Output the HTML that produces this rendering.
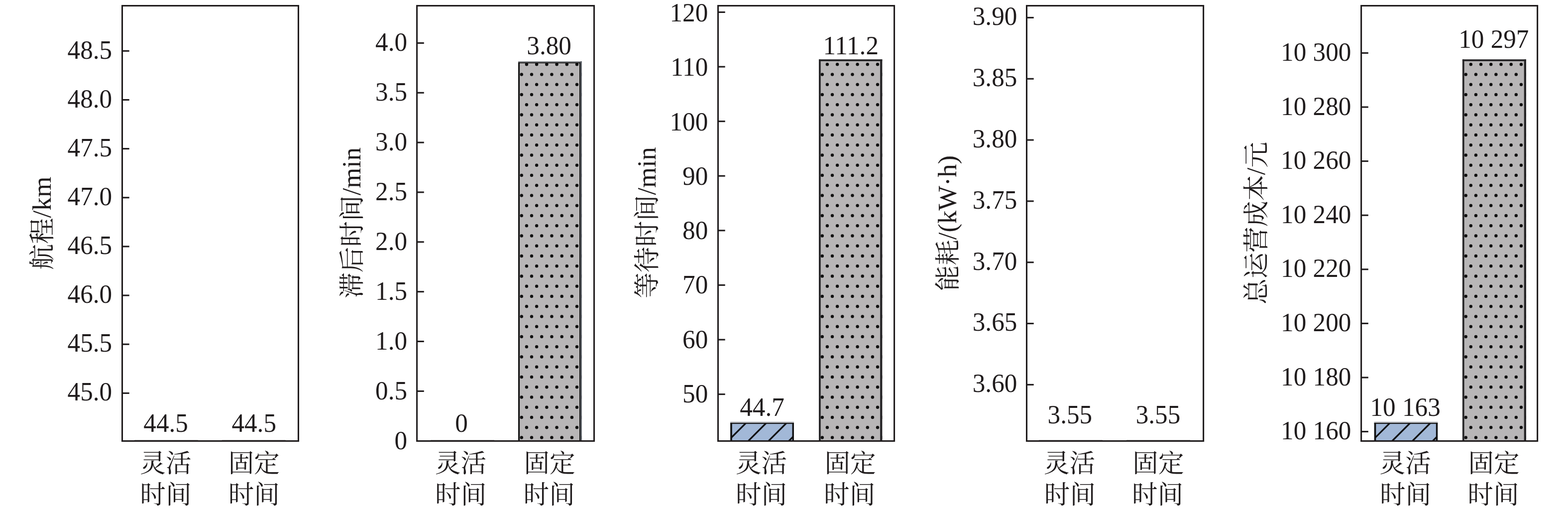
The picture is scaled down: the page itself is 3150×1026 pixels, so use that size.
<!DOCTYPE html>
<html><head><meta charset="utf-8"><title>chart</title>
<style>html,body{margin:0;padding:0;background:#fff}svg{display:block}text{font-family:"Liberation Serif",serif;fill:#1f1b1c}text.cj{font-family:"Liberation Serif","Noto Serif CJK SC",serif}</style></head><body>
<svg width="3150" height="1026" viewBox="0 0 3150 1026">
<rect width="3150" height="1026" fill="#fff"/>
<g>
<rect x="270" y="883.27" width="127.80" height="0.9" fill="#a0a0a0"/>
<rect x="445.8" y="883.27" width="128.00" height="0.9" fill="#a0a0a0"/>
<rect x="245.5" y="11.5" width="353.95" height="874.00" fill="none" stroke="#1f1b1c" stroke-width="3.05"/>
<line x1="245.5" y1="102.30" x2="259.70" y2="102.30" stroke="#1f1b1c" stroke-width="3.05"/>
<text transform="translate(225.20 117.80) scale(1 1.045)" font-size="51.2" text-anchor="end" word-spacing="0.5">48.5</text>
<line x1="245.5" y1="200.46" x2="259.70" y2="200.46" stroke="#1f1b1c" stroke-width="3.05"/>
<text transform="translate(225.20 215.80) scale(1 1.045)" font-size="51.2" text-anchor="end" word-spacing="0.5">48.0</text>
<line x1="245.5" y1="298.61" x2="259.70" y2="298.61" stroke="#1f1b1c" stroke-width="3.05"/>
<text transform="translate(225.20 313.80) scale(1 1.045)" font-size="51.2" text-anchor="end" word-spacing="0.5">47.5</text>
<line x1="245.5" y1="396.77" x2="259.70" y2="396.77" stroke="#1f1b1c" stroke-width="3.05"/>
<text transform="translate(225.20 411.80) scale(1 1.045)" font-size="51.2" text-anchor="end" word-spacing="0.5">47.0</text>
<line x1="245.5" y1="494.93" x2="259.70" y2="494.93" stroke="#1f1b1c" stroke-width="3.05"/>
<text transform="translate(225.20 509.80) scale(1 1.045)" font-size="51.2" text-anchor="end" word-spacing="0.5">46.5</text>
<line x1="245.5" y1="593.09" x2="259.70" y2="593.09" stroke="#1f1b1c" stroke-width="3.05"/>
<text transform="translate(225.20 607.80) scale(1 1.045)" font-size="51.2" text-anchor="end" word-spacing="0.5">46.0</text>
<line x1="245.5" y1="691.24" x2="259.70" y2="691.24" stroke="#1f1b1c" stroke-width="3.05"/>
<text transform="translate(225.20 705.80) scale(1 1.045)" font-size="51.2" text-anchor="end" word-spacing="0.5">45.5</text>
<line x1="245.5" y1="789.40" x2="259.70" y2="789.40" stroke="#1f1b1c" stroke-width="3.05"/>
<text transform="translate(225.20 803.80) scale(1 1.045)" font-size="51.2" text-anchor="end" word-spacing="0.5">45.0</text>
<text transform="translate(333.10 866.90) scale(1 1.045)" font-size="51.2" text-anchor="middle" word-spacing="0.5">44.5</text>
<text transform="translate(510.20 866.90) scale(1 1.045)" font-size="51.2" text-anchor="middle" word-spacing="0.5">44.5</text>
<text class="cj" x="281.30" y="948.30" font-size="51.6">灵活</text>
<text class="cj" x="281.30" y="1011.00" font-size="51.6">时间</text>
<text class="cj" x="458.70" y="948.30" font-size="51.6">固定</text>
<text class="cj" x="458.70" y="1011.00" font-size="51.6">时间</text>
<g transform="translate(102.4 448.3) rotate(-90)">
<text class="cj" x="-93.66" y="1.00" font-size="52.2">航程</text>
<text transform="translate(10.74 0.00) scale(1 1.0)" font-size="53.3" text-anchor="start" >/km</text>
</g>
</g>
<g>
<rect x="865" y="883.27" width="128.00" height="0.9" fill="#a0a0a0"/>
<clipPath id="c11"><rect x="1041" y="123" width="127.80" height="762.50"/></clipPath>
<rect x="1041" y="123" width="127.80" height="762.50" fill="#b8b6b7"/>
<g clip-path="url(#c11)" fill="#111">
<circle cx="1057.90" cy="129.20" r="3.2"/>
<circle cx="1078.12" cy="129.20" r="3.2"/>
<circle cx="1098.34" cy="129.20" r="3.2"/>
<circle cx="1118.56" cy="129.20" r="3.2"/>
<circle cx="1138.78" cy="129.20" r="3.2"/>
<circle cx="1159.00" cy="129.20" r="3.2"/>
<circle cx="1047.80" cy="149.45" r="3.2"/>
<circle cx="1068.02" cy="149.45" r="3.2"/>
<circle cx="1088.24" cy="149.45" r="3.2"/>
<circle cx="1108.46" cy="149.45" r="3.2"/>
<circle cx="1128.68" cy="149.45" r="3.2"/>
<circle cx="1148.90" cy="149.45" r="3.2"/>
<circle cx="1169.12" cy="149.45" r="3.2"/>
<circle cx="1057.90" cy="169.70" r="3.2"/>
<circle cx="1078.12" cy="169.70" r="3.2"/>
<circle cx="1098.34" cy="169.70" r="3.2"/>
<circle cx="1118.56" cy="169.70" r="3.2"/>
<circle cx="1138.78" cy="169.70" r="3.2"/>
<circle cx="1159.00" cy="169.70" r="3.2"/>
<circle cx="1047.80" cy="189.95" r="3.2"/>
<circle cx="1068.02" cy="189.95" r="3.2"/>
<circle cx="1088.24" cy="189.95" r="3.2"/>
<circle cx="1108.46" cy="189.95" r="3.2"/>
<circle cx="1128.68" cy="189.95" r="3.2"/>
<circle cx="1148.90" cy="189.95" r="3.2"/>
<circle cx="1169.12" cy="189.95" r="3.2"/>
<circle cx="1057.90" cy="210.20" r="3.2"/>
<circle cx="1078.12" cy="210.20" r="3.2"/>
<circle cx="1098.34" cy="210.20" r="3.2"/>
<circle cx="1118.56" cy="210.20" r="3.2"/>
<circle cx="1138.78" cy="210.20" r="3.2"/>
<circle cx="1159.00" cy="210.20" r="3.2"/>
<circle cx="1047.80" cy="230.45" r="3.2"/>
<circle cx="1068.02" cy="230.45" r="3.2"/>
<circle cx="1088.24" cy="230.45" r="3.2"/>
<circle cx="1108.46" cy="230.45" r="3.2"/>
<circle cx="1128.68" cy="230.45" r="3.2"/>
<circle cx="1148.90" cy="230.45" r="3.2"/>
<circle cx="1169.12" cy="230.45" r="3.2"/>
<circle cx="1057.90" cy="250.70" r="3.2"/>
<circle cx="1078.12" cy="250.70" r="3.2"/>
<circle cx="1098.34" cy="250.70" r="3.2"/>
<circle cx="1118.56" cy="250.70" r="3.2"/>
<circle cx="1138.78" cy="250.70" r="3.2"/>
<circle cx="1159.00" cy="250.70" r="3.2"/>
<circle cx="1047.80" cy="270.95" r="3.2"/>
<circle cx="1068.02" cy="270.95" r="3.2"/>
<circle cx="1088.24" cy="270.95" r="3.2"/>
<circle cx="1108.46" cy="270.95" r="3.2"/>
<circle cx="1128.68" cy="270.95" r="3.2"/>
<circle cx="1148.90" cy="270.95" r="3.2"/>
<circle cx="1169.12" cy="270.95" r="3.2"/>
<circle cx="1057.90" cy="291.20" r="3.2"/>
<circle cx="1078.12" cy="291.20" r="3.2"/>
<circle cx="1098.34" cy="291.20" r="3.2"/>
<circle cx="1118.56" cy="291.20" r="3.2"/>
<circle cx="1138.78" cy="291.20" r="3.2"/>
<circle cx="1159.00" cy="291.20" r="3.2"/>
<circle cx="1047.80" cy="311.45" r="3.2"/>
<circle cx="1068.02" cy="311.45" r="3.2"/>
<circle cx="1088.24" cy="311.45" r="3.2"/>
<circle cx="1108.46" cy="311.45" r="3.2"/>
<circle cx="1128.68" cy="311.45" r="3.2"/>
<circle cx="1148.90" cy="311.45" r="3.2"/>
<circle cx="1169.12" cy="311.45" r="3.2"/>
<circle cx="1057.90" cy="331.70" r="3.2"/>
<circle cx="1078.12" cy="331.70" r="3.2"/>
<circle cx="1098.34" cy="331.70" r="3.2"/>
<circle cx="1118.56" cy="331.70" r="3.2"/>
<circle cx="1138.78" cy="331.70" r="3.2"/>
<circle cx="1159.00" cy="331.70" r="3.2"/>
<circle cx="1047.80" cy="351.95" r="3.2"/>
<circle cx="1068.02" cy="351.95" r="3.2"/>
<circle cx="1088.24" cy="351.95" r="3.2"/>
<circle cx="1108.46" cy="351.95" r="3.2"/>
<circle cx="1128.68" cy="351.95" r="3.2"/>
<circle cx="1148.90" cy="351.95" r="3.2"/>
<circle cx="1169.12" cy="351.95" r="3.2"/>
<circle cx="1057.90" cy="372.20" r="3.2"/>
<circle cx="1078.12" cy="372.20" r="3.2"/>
<circle cx="1098.34" cy="372.20" r="3.2"/>
<circle cx="1118.56" cy="372.20" r="3.2"/>
<circle cx="1138.78" cy="372.20" r="3.2"/>
<circle cx="1159.00" cy="372.20" r="3.2"/>
<circle cx="1047.80" cy="392.45" r="3.2"/>
<circle cx="1068.02" cy="392.45" r="3.2"/>
<circle cx="1088.24" cy="392.45" r="3.2"/>
<circle cx="1108.46" cy="392.45" r="3.2"/>
<circle cx="1128.68" cy="392.45" r="3.2"/>
<circle cx="1148.90" cy="392.45" r="3.2"/>
<circle cx="1169.12" cy="392.45" r="3.2"/>
<circle cx="1057.90" cy="412.70" r="3.2"/>
<circle cx="1078.12" cy="412.70" r="3.2"/>
<circle cx="1098.34" cy="412.70" r="3.2"/>
<circle cx="1118.56" cy="412.70" r="3.2"/>
<circle cx="1138.78" cy="412.70" r="3.2"/>
<circle cx="1159.00" cy="412.70" r="3.2"/>
<circle cx="1047.80" cy="432.95" r="3.2"/>
<circle cx="1068.02" cy="432.95" r="3.2"/>
<circle cx="1088.24" cy="432.95" r="3.2"/>
<circle cx="1108.46" cy="432.95" r="3.2"/>
<circle cx="1128.68" cy="432.95" r="3.2"/>
<circle cx="1148.90" cy="432.95" r="3.2"/>
<circle cx="1169.12" cy="432.95" r="3.2"/>
<circle cx="1057.90" cy="453.20" r="3.2"/>
<circle cx="1078.12" cy="453.20" r="3.2"/>
<circle cx="1098.34" cy="453.20" r="3.2"/>
<circle cx="1118.56" cy="453.20" r="3.2"/>
<circle cx="1138.78" cy="453.20" r="3.2"/>
<circle cx="1159.00" cy="453.20" r="3.2"/>
<circle cx="1047.80" cy="473.45" r="3.2"/>
<circle cx="1068.02" cy="473.45" r="3.2"/>
<circle cx="1088.24" cy="473.45" r="3.2"/>
<circle cx="1108.46" cy="473.45" r="3.2"/>
<circle cx="1128.68" cy="473.45" r="3.2"/>
<circle cx="1148.90" cy="473.45" r="3.2"/>
<circle cx="1169.12" cy="473.45" r="3.2"/>
<circle cx="1057.90" cy="493.70" r="3.2"/>
<circle cx="1078.12" cy="493.70" r="3.2"/>
<circle cx="1098.34" cy="493.70" r="3.2"/>
<circle cx="1118.56" cy="493.70" r="3.2"/>
<circle cx="1138.78" cy="493.70" r="3.2"/>
<circle cx="1159.00" cy="493.70" r="3.2"/>
<circle cx="1047.80" cy="513.95" r="3.2"/>
<circle cx="1068.02" cy="513.95" r="3.2"/>
<circle cx="1088.24" cy="513.95" r="3.2"/>
<circle cx="1108.46" cy="513.95" r="3.2"/>
<circle cx="1128.68" cy="513.95" r="3.2"/>
<circle cx="1148.90" cy="513.95" r="3.2"/>
<circle cx="1169.12" cy="513.95" r="3.2"/>
<circle cx="1057.90" cy="534.20" r="3.2"/>
<circle cx="1078.12" cy="534.20" r="3.2"/>
<circle cx="1098.34" cy="534.20" r="3.2"/>
<circle cx="1118.56" cy="534.20" r="3.2"/>
<circle cx="1138.78" cy="534.20" r="3.2"/>
<circle cx="1159.00" cy="534.20" r="3.2"/>
<circle cx="1047.80" cy="554.45" r="3.2"/>
<circle cx="1068.02" cy="554.45" r="3.2"/>
<circle cx="1088.24" cy="554.45" r="3.2"/>
<circle cx="1108.46" cy="554.45" r="3.2"/>
<circle cx="1128.68" cy="554.45" r="3.2"/>
<circle cx="1148.90" cy="554.45" r="3.2"/>
<circle cx="1169.12" cy="554.45" r="3.2"/>
<circle cx="1057.90" cy="574.70" r="3.2"/>
<circle cx="1078.12" cy="574.70" r="3.2"/>
<circle cx="1098.34" cy="574.70" r="3.2"/>
<circle cx="1118.56" cy="574.70" r="3.2"/>
<circle cx="1138.78" cy="574.70" r="3.2"/>
<circle cx="1159.00" cy="574.70" r="3.2"/>
<circle cx="1047.80" cy="594.95" r="3.2"/>
<circle cx="1068.02" cy="594.95" r="3.2"/>
<circle cx="1088.24" cy="594.95" r="3.2"/>
<circle cx="1108.46" cy="594.95" r="3.2"/>
<circle cx="1128.68" cy="594.95" r="3.2"/>
<circle cx="1148.90" cy="594.95" r="3.2"/>
<circle cx="1169.12" cy="594.95" r="3.2"/>
<circle cx="1057.90" cy="615.20" r="3.2"/>
<circle cx="1078.12" cy="615.20" r="3.2"/>
<circle cx="1098.34" cy="615.20" r="3.2"/>
<circle cx="1118.56" cy="615.20" r="3.2"/>
<circle cx="1138.78" cy="615.20" r="3.2"/>
<circle cx="1159.00" cy="615.20" r="3.2"/>
<circle cx="1047.80" cy="635.45" r="3.2"/>
<circle cx="1068.02" cy="635.45" r="3.2"/>
<circle cx="1088.24" cy="635.45" r="3.2"/>
<circle cx="1108.46" cy="635.45" r="3.2"/>
<circle cx="1128.68" cy="635.45" r="3.2"/>
<circle cx="1148.90" cy="635.45" r="3.2"/>
<circle cx="1169.12" cy="635.45" r="3.2"/>
<circle cx="1057.90" cy="655.70" r="3.2"/>
<circle cx="1078.12" cy="655.70" r="3.2"/>
<circle cx="1098.34" cy="655.70" r="3.2"/>
<circle cx="1118.56" cy="655.70" r="3.2"/>
<circle cx="1138.78" cy="655.70" r="3.2"/>
<circle cx="1159.00" cy="655.70" r="3.2"/>
<circle cx="1047.80" cy="675.95" r="3.2"/>
<circle cx="1068.02" cy="675.95" r="3.2"/>
<circle cx="1088.24" cy="675.95" r="3.2"/>
<circle cx="1108.46" cy="675.95" r="3.2"/>
<circle cx="1128.68" cy="675.95" r="3.2"/>
<circle cx="1148.90" cy="675.95" r="3.2"/>
<circle cx="1169.12" cy="675.95" r="3.2"/>
<circle cx="1057.90" cy="696.20" r="3.2"/>
<circle cx="1078.12" cy="696.20" r="3.2"/>
<circle cx="1098.34" cy="696.20" r="3.2"/>
<circle cx="1118.56" cy="696.20" r="3.2"/>
<circle cx="1138.78" cy="696.20" r="3.2"/>
<circle cx="1159.00" cy="696.20" r="3.2"/>
<circle cx="1047.80" cy="716.45" r="3.2"/>
<circle cx="1068.02" cy="716.45" r="3.2"/>
<circle cx="1088.24" cy="716.45" r="3.2"/>
<circle cx="1108.46" cy="716.45" r="3.2"/>
<circle cx="1128.68" cy="716.45" r="3.2"/>
<circle cx="1148.90" cy="716.45" r="3.2"/>
<circle cx="1169.12" cy="716.45" r="3.2"/>
<circle cx="1057.90" cy="736.70" r="3.2"/>
<circle cx="1078.12" cy="736.70" r="3.2"/>
<circle cx="1098.34" cy="736.70" r="3.2"/>
<circle cx="1118.56" cy="736.70" r="3.2"/>
<circle cx="1138.78" cy="736.70" r="3.2"/>
<circle cx="1159.00" cy="736.70" r="3.2"/>
<circle cx="1047.80" cy="756.95" r="3.2"/>
<circle cx="1068.02" cy="756.95" r="3.2"/>
<circle cx="1088.24" cy="756.95" r="3.2"/>
<circle cx="1108.46" cy="756.95" r="3.2"/>
<circle cx="1128.68" cy="756.95" r="3.2"/>
<circle cx="1148.90" cy="756.95" r="3.2"/>
<circle cx="1169.12" cy="756.95" r="3.2"/>
<circle cx="1057.90" cy="777.20" r="3.2"/>
<circle cx="1078.12" cy="777.20" r="3.2"/>
<circle cx="1098.34" cy="777.20" r="3.2"/>
<circle cx="1118.56" cy="777.20" r="3.2"/>
<circle cx="1138.78" cy="777.20" r="3.2"/>
<circle cx="1159.00" cy="777.20" r="3.2"/>
<circle cx="1047.80" cy="797.45" r="3.2"/>
<circle cx="1068.02" cy="797.45" r="3.2"/>
<circle cx="1088.24" cy="797.45" r="3.2"/>
<circle cx="1108.46" cy="797.45" r="3.2"/>
<circle cx="1128.68" cy="797.45" r="3.2"/>
<circle cx="1148.90" cy="797.45" r="3.2"/>
<circle cx="1169.12" cy="797.45" r="3.2"/>
<circle cx="1057.90" cy="817.70" r="3.2"/>
<circle cx="1078.12" cy="817.70" r="3.2"/>
<circle cx="1098.34" cy="817.70" r="3.2"/>
<circle cx="1118.56" cy="817.70" r="3.2"/>
<circle cx="1138.78" cy="817.70" r="3.2"/>
<circle cx="1159.00" cy="817.70" r="3.2"/>
<circle cx="1047.80" cy="837.95" r="3.2"/>
<circle cx="1068.02" cy="837.95" r="3.2"/>
<circle cx="1088.24" cy="837.95" r="3.2"/>
<circle cx="1108.46" cy="837.95" r="3.2"/>
<circle cx="1128.68" cy="837.95" r="3.2"/>
<circle cx="1148.90" cy="837.95" r="3.2"/>
<circle cx="1169.12" cy="837.95" r="3.2"/>
<circle cx="1057.90" cy="858.20" r="3.2"/>
<circle cx="1078.12" cy="858.20" r="3.2"/>
<circle cx="1098.34" cy="858.20" r="3.2"/>
<circle cx="1118.56" cy="858.20" r="3.2"/>
<circle cx="1138.78" cy="858.20" r="3.2"/>
<circle cx="1159.00" cy="858.20" r="3.2"/>
<circle cx="1047.80" cy="878.45" r="3.2"/>
<circle cx="1068.02" cy="878.45" r="3.2"/>
<circle cx="1088.24" cy="878.45" r="3.2"/>
<circle cx="1108.46" cy="878.45" r="3.2"/>
<circle cx="1128.68" cy="878.45" r="3.2"/>
<circle cx="1148.90" cy="878.45" r="3.2"/>
<circle cx="1169.12" cy="878.45" r="3.2"/>
</g>
<rect x="1041" y="123" width="127.80" height="2.4" fill="#85888c"/>
<rect x="1041" y="125.3" width="125.00" height="1.8" fill="#111"/>
<rect x="1041" y="125.3" width="3.1" height="760.20" fill="#111"/>
<rect x="1164.00" y="125.3" width="2.0" height="760.20" fill="#111"/>
<rect x="1166.00" y="123" width="2.8" height="762.50" fill="#5d6168"/>
<rect x="837.6" y="11.5" width="355.90" height="874.00" fill="none" stroke="#1f1b1c" stroke-width="3.05"/>
<line x1="837.6" y1="86.40" x2="851.80" y2="86.40" stroke="#1f1b1c" stroke-width="3.05"/>
<text transform="translate(818.10 101.80) scale(1 1.045)" font-size="51.2" text-anchor="end" word-spacing="0.5">4.0</text>
<line x1="837.6" y1="186.26" x2="851.80" y2="186.26" stroke="#1f1b1c" stroke-width="3.05"/>
<text transform="translate(818.10 201.86) scale(1 1.045)" font-size="51.2" text-anchor="end" word-spacing="0.5">3.5</text>
<line x1="837.6" y1="286.11" x2="851.80" y2="286.11" stroke="#1f1b1c" stroke-width="3.05"/>
<text transform="translate(818.10 301.91) scale(1 1.045)" font-size="51.2" text-anchor="end" word-spacing="0.5">3.0</text>
<line x1="837.6" y1="385.97" x2="851.80" y2="385.97" stroke="#1f1b1c" stroke-width="3.05"/>
<text transform="translate(818.10 401.97) scale(1 1.045)" font-size="51.2" text-anchor="end" word-spacing="0.5">2.5</text>
<line x1="837.6" y1="485.83" x2="851.80" y2="485.83" stroke="#1f1b1c" stroke-width="3.05"/>
<text transform="translate(818.10 502.03) scale(1 1.045)" font-size="51.2" text-anchor="end" word-spacing="0.5">2.0</text>
<line x1="837.6" y1="585.69" x2="851.80" y2="585.69" stroke="#1f1b1c" stroke-width="3.05"/>
<text transform="translate(818.10 602.09) scale(1 1.045)" font-size="51.2" text-anchor="end" word-spacing="0.5">1.5</text>
<line x1="837.6" y1="685.54" x2="851.80" y2="685.54" stroke="#1f1b1c" stroke-width="3.05"/>
<text transform="translate(818.10 702.14) scale(1 1.045)" font-size="51.2" text-anchor="end" word-spacing="0.5">1.0</text>
<line x1="837.6" y1="785.40" x2="851.80" y2="785.40" stroke="#1f1b1c" stroke-width="3.05"/>
<text transform="translate(818.10 802.20) scale(1 1.045)" font-size="51.2" text-anchor="end" word-spacing="0.5">0.5</text>
<text transform="translate(818.10 902.00) scale(1 1.045)" font-size="51.2" text-anchor="end" word-spacing="0.5">0</text>
<text transform="translate(927.00 866.80) scale(1 1.045)" font-size="51.2" text-anchor="middle" word-spacing="0.5">0</text>
<text transform="translate(1103.10 109.30) scale(1 1.045)" font-size="51.2" text-anchor="middle" word-spacing="0.5">3.80</text>
<text class="cj" x="874.00" y="948.30" font-size="51.6">灵活</text>
<text class="cj" x="874.10" y="1011.00" font-size="51.6">时间</text>
<text class="cj" x="1052.50" y="948.30" font-size="51.6">固定</text>
<text class="cj" x="1051.60" y="1011.00" font-size="51.6">时间</text>
<g transform="translate(723.9 447.4) rotate(-90)">
<text class="cj" x="-151.33" y="1.00" font-size="51.6">滞后时间</text>
<text transform="translate(55.07 0.00) scale(1 1.0)" font-size="52.5" text-anchor="start" >/min</text>
</g>
</g>
<g>
<clipPath id="c20"><rect x="1467.15" y="846.8" width="127.75" height="38.70"/></clipPath>
<rect x="1467.15" y="846.8" width="127.75" height="38.70" fill="#a2b8d7"/>
<clipPath id="c20h"><rect x="1468.15" y="849.8" width="125.75" height="35.70"/></clipPath>
<g clip-path="url(#c20h)" stroke="#111" stroke-width="3.3">
<line x1="1376.05" y1="890.50" x2="1424.75" y2="841.80"/>
<line x1="1416.75" y1="890.50" x2="1465.45" y2="841.80"/>
<line x1="1457.45" y1="890.50" x2="1506.15" y2="841.80"/>
<line x1="1498.15" y1="890.50" x2="1546.85" y2="841.80"/>
<line x1="1538.85" y1="890.50" x2="1587.55" y2="841.80"/>
<line x1="1579.55" y1="890.50" x2="1628.25" y2="841.80"/>
<line x1="1620.25" y1="890.50" x2="1668.95" y2="841.80"/>
<line x1="1660.95" y1="890.50" x2="1709.65" y2="841.80"/>
</g>
<rect x="1467.15" y="846.8" width="127.75" height="2.3" fill="#b4b4b6"/>
<rect x="1467.15" y="849.0999999999999" width="127.75" height="2.0" fill="#111"/>
<rect x="1467.15" y="849.0999999999999" width="3.6" height="36.40" fill="#111"/>
<rect x="1591.50" y="849.0999999999999" width="3.4" height="36.40" fill="#111"/>
<clipPath id="c21"><rect x="1645" y="119.2" width="127.30" height="766.30"/></clipPath>
<rect x="1645" y="119.2" width="127.30" height="766.30" fill="#b8b6b7"/>
<g clip-path="url(#c21)" fill="#111">
<circle cx="1661.90" cy="129.20" r="3.2"/>
<circle cx="1682.12" cy="129.20" r="3.2"/>
<circle cx="1702.34" cy="129.20" r="3.2"/>
<circle cx="1722.56" cy="129.20" r="3.2"/>
<circle cx="1742.78" cy="129.20" r="3.2"/>
<circle cx="1763.00" cy="129.20" r="3.2"/>
<circle cx="1651.80" cy="149.45" r="3.2"/>
<circle cx="1672.02" cy="149.45" r="3.2"/>
<circle cx="1692.24" cy="149.45" r="3.2"/>
<circle cx="1712.46" cy="149.45" r="3.2"/>
<circle cx="1732.68" cy="149.45" r="3.2"/>
<circle cx="1752.90" cy="149.45" r="3.2"/>
<circle cx="1773.12" cy="149.45" r="3.2"/>
<circle cx="1661.90" cy="169.70" r="3.2"/>
<circle cx="1682.12" cy="169.70" r="3.2"/>
<circle cx="1702.34" cy="169.70" r="3.2"/>
<circle cx="1722.56" cy="169.70" r="3.2"/>
<circle cx="1742.78" cy="169.70" r="3.2"/>
<circle cx="1763.00" cy="169.70" r="3.2"/>
<circle cx="1651.80" cy="189.95" r="3.2"/>
<circle cx="1672.02" cy="189.95" r="3.2"/>
<circle cx="1692.24" cy="189.95" r="3.2"/>
<circle cx="1712.46" cy="189.95" r="3.2"/>
<circle cx="1732.68" cy="189.95" r="3.2"/>
<circle cx="1752.90" cy="189.95" r="3.2"/>
<circle cx="1773.12" cy="189.95" r="3.2"/>
<circle cx="1661.90" cy="210.20" r="3.2"/>
<circle cx="1682.12" cy="210.20" r="3.2"/>
<circle cx="1702.34" cy="210.20" r="3.2"/>
<circle cx="1722.56" cy="210.20" r="3.2"/>
<circle cx="1742.78" cy="210.20" r="3.2"/>
<circle cx="1763.00" cy="210.20" r="3.2"/>
<circle cx="1651.80" cy="230.45" r="3.2"/>
<circle cx="1672.02" cy="230.45" r="3.2"/>
<circle cx="1692.24" cy="230.45" r="3.2"/>
<circle cx="1712.46" cy="230.45" r="3.2"/>
<circle cx="1732.68" cy="230.45" r="3.2"/>
<circle cx="1752.90" cy="230.45" r="3.2"/>
<circle cx="1773.12" cy="230.45" r="3.2"/>
<circle cx="1661.90" cy="250.70" r="3.2"/>
<circle cx="1682.12" cy="250.70" r="3.2"/>
<circle cx="1702.34" cy="250.70" r="3.2"/>
<circle cx="1722.56" cy="250.70" r="3.2"/>
<circle cx="1742.78" cy="250.70" r="3.2"/>
<circle cx="1763.00" cy="250.70" r="3.2"/>
<circle cx="1651.80" cy="270.95" r="3.2"/>
<circle cx="1672.02" cy="270.95" r="3.2"/>
<circle cx="1692.24" cy="270.95" r="3.2"/>
<circle cx="1712.46" cy="270.95" r="3.2"/>
<circle cx="1732.68" cy="270.95" r="3.2"/>
<circle cx="1752.90" cy="270.95" r="3.2"/>
<circle cx="1773.12" cy="270.95" r="3.2"/>
<circle cx="1661.90" cy="291.20" r="3.2"/>
<circle cx="1682.12" cy="291.20" r="3.2"/>
<circle cx="1702.34" cy="291.20" r="3.2"/>
<circle cx="1722.56" cy="291.20" r="3.2"/>
<circle cx="1742.78" cy="291.20" r="3.2"/>
<circle cx="1763.00" cy="291.20" r="3.2"/>
<circle cx="1651.80" cy="311.45" r="3.2"/>
<circle cx="1672.02" cy="311.45" r="3.2"/>
<circle cx="1692.24" cy="311.45" r="3.2"/>
<circle cx="1712.46" cy="311.45" r="3.2"/>
<circle cx="1732.68" cy="311.45" r="3.2"/>
<circle cx="1752.90" cy="311.45" r="3.2"/>
<circle cx="1773.12" cy="311.45" r="3.2"/>
<circle cx="1661.90" cy="331.70" r="3.2"/>
<circle cx="1682.12" cy="331.70" r="3.2"/>
<circle cx="1702.34" cy="331.70" r="3.2"/>
<circle cx="1722.56" cy="331.70" r="3.2"/>
<circle cx="1742.78" cy="331.70" r="3.2"/>
<circle cx="1763.00" cy="331.70" r="3.2"/>
<circle cx="1651.80" cy="351.95" r="3.2"/>
<circle cx="1672.02" cy="351.95" r="3.2"/>
<circle cx="1692.24" cy="351.95" r="3.2"/>
<circle cx="1712.46" cy="351.95" r="3.2"/>
<circle cx="1732.68" cy="351.95" r="3.2"/>
<circle cx="1752.90" cy="351.95" r="3.2"/>
<circle cx="1773.12" cy="351.95" r="3.2"/>
<circle cx="1661.90" cy="372.20" r="3.2"/>
<circle cx="1682.12" cy="372.20" r="3.2"/>
<circle cx="1702.34" cy="372.20" r="3.2"/>
<circle cx="1722.56" cy="372.20" r="3.2"/>
<circle cx="1742.78" cy="372.20" r="3.2"/>
<circle cx="1763.00" cy="372.20" r="3.2"/>
<circle cx="1651.80" cy="392.45" r="3.2"/>
<circle cx="1672.02" cy="392.45" r="3.2"/>
<circle cx="1692.24" cy="392.45" r="3.2"/>
<circle cx="1712.46" cy="392.45" r="3.2"/>
<circle cx="1732.68" cy="392.45" r="3.2"/>
<circle cx="1752.90" cy="392.45" r="3.2"/>
<circle cx="1773.12" cy="392.45" r="3.2"/>
<circle cx="1661.90" cy="412.70" r="3.2"/>
<circle cx="1682.12" cy="412.70" r="3.2"/>
<circle cx="1702.34" cy="412.70" r="3.2"/>
<circle cx="1722.56" cy="412.70" r="3.2"/>
<circle cx="1742.78" cy="412.70" r="3.2"/>
<circle cx="1763.00" cy="412.70" r="3.2"/>
<circle cx="1651.80" cy="432.95" r="3.2"/>
<circle cx="1672.02" cy="432.95" r="3.2"/>
<circle cx="1692.24" cy="432.95" r="3.2"/>
<circle cx="1712.46" cy="432.95" r="3.2"/>
<circle cx="1732.68" cy="432.95" r="3.2"/>
<circle cx="1752.90" cy="432.95" r="3.2"/>
<circle cx="1773.12" cy="432.95" r="3.2"/>
<circle cx="1661.90" cy="453.20" r="3.2"/>
<circle cx="1682.12" cy="453.20" r="3.2"/>
<circle cx="1702.34" cy="453.20" r="3.2"/>
<circle cx="1722.56" cy="453.20" r="3.2"/>
<circle cx="1742.78" cy="453.20" r="3.2"/>
<circle cx="1763.00" cy="453.20" r="3.2"/>
<circle cx="1651.80" cy="473.45" r="3.2"/>
<circle cx="1672.02" cy="473.45" r="3.2"/>
<circle cx="1692.24" cy="473.45" r="3.2"/>
<circle cx="1712.46" cy="473.45" r="3.2"/>
<circle cx="1732.68" cy="473.45" r="3.2"/>
<circle cx="1752.90" cy="473.45" r="3.2"/>
<circle cx="1773.12" cy="473.45" r="3.2"/>
<circle cx="1661.90" cy="493.70" r="3.2"/>
<circle cx="1682.12" cy="493.70" r="3.2"/>
<circle cx="1702.34" cy="493.70" r="3.2"/>
<circle cx="1722.56" cy="493.70" r="3.2"/>
<circle cx="1742.78" cy="493.70" r="3.2"/>
<circle cx="1763.00" cy="493.70" r="3.2"/>
<circle cx="1651.80" cy="513.95" r="3.2"/>
<circle cx="1672.02" cy="513.95" r="3.2"/>
<circle cx="1692.24" cy="513.95" r="3.2"/>
<circle cx="1712.46" cy="513.95" r="3.2"/>
<circle cx="1732.68" cy="513.95" r="3.2"/>
<circle cx="1752.90" cy="513.95" r="3.2"/>
<circle cx="1773.12" cy="513.95" r="3.2"/>
<circle cx="1661.90" cy="534.20" r="3.2"/>
<circle cx="1682.12" cy="534.20" r="3.2"/>
<circle cx="1702.34" cy="534.20" r="3.2"/>
<circle cx="1722.56" cy="534.20" r="3.2"/>
<circle cx="1742.78" cy="534.20" r="3.2"/>
<circle cx="1763.00" cy="534.20" r="3.2"/>
<circle cx="1651.80" cy="554.45" r="3.2"/>
<circle cx="1672.02" cy="554.45" r="3.2"/>
<circle cx="1692.24" cy="554.45" r="3.2"/>
<circle cx="1712.46" cy="554.45" r="3.2"/>
<circle cx="1732.68" cy="554.45" r="3.2"/>
<circle cx="1752.90" cy="554.45" r="3.2"/>
<circle cx="1773.12" cy="554.45" r="3.2"/>
<circle cx="1661.90" cy="574.70" r="3.2"/>
<circle cx="1682.12" cy="574.70" r="3.2"/>
<circle cx="1702.34" cy="574.70" r="3.2"/>
<circle cx="1722.56" cy="574.70" r="3.2"/>
<circle cx="1742.78" cy="574.70" r="3.2"/>
<circle cx="1763.00" cy="574.70" r="3.2"/>
<circle cx="1651.80" cy="594.95" r="3.2"/>
<circle cx="1672.02" cy="594.95" r="3.2"/>
<circle cx="1692.24" cy="594.95" r="3.2"/>
<circle cx="1712.46" cy="594.95" r="3.2"/>
<circle cx="1732.68" cy="594.95" r="3.2"/>
<circle cx="1752.90" cy="594.95" r="3.2"/>
<circle cx="1773.12" cy="594.95" r="3.2"/>
<circle cx="1661.90" cy="615.20" r="3.2"/>
<circle cx="1682.12" cy="615.20" r="3.2"/>
<circle cx="1702.34" cy="615.20" r="3.2"/>
<circle cx="1722.56" cy="615.20" r="3.2"/>
<circle cx="1742.78" cy="615.20" r="3.2"/>
<circle cx="1763.00" cy="615.20" r="3.2"/>
<circle cx="1651.80" cy="635.45" r="3.2"/>
<circle cx="1672.02" cy="635.45" r="3.2"/>
<circle cx="1692.24" cy="635.45" r="3.2"/>
<circle cx="1712.46" cy="635.45" r="3.2"/>
<circle cx="1732.68" cy="635.45" r="3.2"/>
<circle cx="1752.90" cy="635.45" r="3.2"/>
<circle cx="1773.12" cy="635.45" r="3.2"/>
<circle cx="1661.90" cy="655.70" r="3.2"/>
<circle cx="1682.12" cy="655.70" r="3.2"/>
<circle cx="1702.34" cy="655.70" r="3.2"/>
<circle cx="1722.56" cy="655.70" r="3.2"/>
<circle cx="1742.78" cy="655.70" r="3.2"/>
<circle cx="1763.00" cy="655.70" r="3.2"/>
<circle cx="1651.80" cy="675.95" r="3.2"/>
<circle cx="1672.02" cy="675.95" r="3.2"/>
<circle cx="1692.24" cy="675.95" r="3.2"/>
<circle cx="1712.46" cy="675.95" r="3.2"/>
<circle cx="1732.68" cy="675.95" r="3.2"/>
<circle cx="1752.90" cy="675.95" r="3.2"/>
<circle cx="1773.12" cy="675.95" r="3.2"/>
<circle cx="1661.90" cy="696.20" r="3.2"/>
<circle cx="1682.12" cy="696.20" r="3.2"/>
<circle cx="1702.34" cy="696.20" r="3.2"/>
<circle cx="1722.56" cy="696.20" r="3.2"/>
<circle cx="1742.78" cy="696.20" r="3.2"/>
<circle cx="1763.00" cy="696.20" r="3.2"/>
<circle cx="1651.80" cy="716.45" r="3.2"/>
<circle cx="1672.02" cy="716.45" r="3.2"/>
<circle cx="1692.24" cy="716.45" r="3.2"/>
<circle cx="1712.46" cy="716.45" r="3.2"/>
<circle cx="1732.68" cy="716.45" r="3.2"/>
<circle cx="1752.90" cy="716.45" r="3.2"/>
<circle cx="1773.12" cy="716.45" r="3.2"/>
<circle cx="1661.90" cy="736.70" r="3.2"/>
<circle cx="1682.12" cy="736.70" r="3.2"/>
<circle cx="1702.34" cy="736.70" r="3.2"/>
<circle cx="1722.56" cy="736.70" r="3.2"/>
<circle cx="1742.78" cy="736.70" r="3.2"/>
<circle cx="1763.00" cy="736.70" r="3.2"/>
<circle cx="1651.80" cy="756.95" r="3.2"/>
<circle cx="1672.02" cy="756.95" r="3.2"/>
<circle cx="1692.24" cy="756.95" r="3.2"/>
<circle cx="1712.46" cy="756.95" r="3.2"/>
<circle cx="1732.68" cy="756.95" r="3.2"/>
<circle cx="1752.90" cy="756.95" r="3.2"/>
<circle cx="1773.12" cy="756.95" r="3.2"/>
<circle cx="1661.90" cy="777.20" r="3.2"/>
<circle cx="1682.12" cy="777.20" r="3.2"/>
<circle cx="1702.34" cy="777.20" r="3.2"/>
<circle cx="1722.56" cy="777.20" r="3.2"/>
<circle cx="1742.78" cy="777.20" r="3.2"/>
<circle cx="1763.00" cy="777.20" r="3.2"/>
<circle cx="1651.80" cy="797.45" r="3.2"/>
<circle cx="1672.02" cy="797.45" r="3.2"/>
<circle cx="1692.24" cy="797.45" r="3.2"/>
<circle cx="1712.46" cy="797.45" r="3.2"/>
<circle cx="1732.68" cy="797.45" r="3.2"/>
<circle cx="1752.90" cy="797.45" r="3.2"/>
<circle cx="1773.12" cy="797.45" r="3.2"/>
<circle cx="1661.90" cy="817.70" r="3.2"/>
<circle cx="1682.12" cy="817.70" r="3.2"/>
<circle cx="1702.34" cy="817.70" r="3.2"/>
<circle cx="1722.56" cy="817.70" r="3.2"/>
<circle cx="1742.78" cy="817.70" r="3.2"/>
<circle cx="1763.00" cy="817.70" r="3.2"/>
<circle cx="1651.80" cy="837.95" r="3.2"/>
<circle cx="1672.02" cy="837.95" r="3.2"/>
<circle cx="1692.24" cy="837.95" r="3.2"/>
<circle cx="1712.46" cy="837.95" r="3.2"/>
<circle cx="1732.68" cy="837.95" r="3.2"/>
<circle cx="1752.90" cy="837.95" r="3.2"/>
<circle cx="1773.12" cy="837.95" r="3.2"/>
<circle cx="1661.90" cy="858.20" r="3.2"/>
<circle cx="1682.12" cy="858.20" r="3.2"/>
<circle cx="1702.34" cy="858.20" r="3.2"/>
<circle cx="1722.56" cy="858.20" r="3.2"/>
<circle cx="1742.78" cy="858.20" r="3.2"/>
<circle cx="1763.00" cy="858.20" r="3.2"/>
<circle cx="1651.80" cy="878.45" r="3.2"/>
<circle cx="1672.02" cy="878.45" r="3.2"/>
<circle cx="1692.24" cy="878.45" r="3.2"/>
<circle cx="1712.46" cy="878.45" r="3.2"/>
<circle cx="1732.68" cy="878.45" r="3.2"/>
<circle cx="1752.90" cy="878.45" r="3.2"/>
<circle cx="1773.12" cy="878.45" r="3.2"/>
</g>
<rect x="1645" y="119.2" width="127.30" height="3.7" fill="#262527"/>
<rect x="1645" y="119.2" width="3.7" height="766.30" fill="#262527"/>
<rect x="1768.10" y="119.2" width="4.2" height="766.30" fill="#262527"/>
<rect x="1442.5" y="11.5" width="354.05" height="874.00" fill="none" stroke="#1f1b1c" stroke-width="3.05"/>
<line x1="1442.5" y1="24.45" x2="1456.70" y2="24.45" stroke="#1f1b1c" stroke-width="3.05"/>
<text transform="translate(1422.25 42.90) scale(1 1.045)" font-size="51.2" text-anchor="end" word-spacing="0.5">120</text>
<line x1="1442.5" y1="134.04" x2="1456.70" y2="134.04" stroke="#1f1b1c" stroke-width="3.05"/>
<text transform="translate(1422.25 152.20) scale(1 1.045)" font-size="51.2" text-anchor="end" word-spacing="0.5">110</text>
<line x1="1442.5" y1="243.64" x2="1456.70" y2="243.64" stroke="#1f1b1c" stroke-width="3.05"/>
<text transform="translate(1422.25 261.50) scale(1 1.045)" font-size="51.2" text-anchor="end" word-spacing="0.5">100</text>
<line x1="1442.5" y1="353.23" x2="1456.70" y2="353.23" stroke="#1f1b1c" stroke-width="3.05"/>
<text transform="translate(1422.25 370.80) scale(1 1.045)" font-size="51.2" text-anchor="end" word-spacing="0.5">90</text>
<line x1="1442.5" y1="462.82" x2="1456.70" y2="462.82" stroke="#1f1b1c" stroke-width="3.05"/>
<text transform="translate(1422.25 480.10) scale(1 1.045)" font-size="51.2" text-anchor="end" word-spacing="0.5">80</text>
<line x1="1442.5" y1="572.41" x2="1456.70" y2="572.41" stroke="#1f1b1c" stroke-width="3.05"/>
<text transform="translate(1422.25 589.40) scale(1 1.045)" font-size="51.2" text-anchor="end" word-spacing="0.5">70</text>
<line x1="1442.5" y1="682.01" x2="1456.70" y2="682.01" stroke="#1f1b1c" stroke-width="3.05"/>
<text transform="translate(1422.25 698.70) scale(1 1.045)" font-size="51.2" text-anchor="end" word-spacing="0.5">60</text>
<line x1="1442.5" y1="791.60" x2="1456.70" y2="791.60" stroke="#1f1b1c" stroke-width="3.05"/>
<text transform="translate(1422.25 808.00) scale(1 1.045)" font-size="51.2" text-anchor="end" word-spacing="0.5">50</text>
<text transform="translate(1531.00 835.00) scale(1 1.045)" font-size="51.2" text-anchor="middle" word-spacing="0.5">44.7</text>
<text transform="translate(1709.30 109.20) scale(1 1.045)" font-size="51.2" text-anchor="middle" word-spacing="0.5">111.2</text>
<text class="cj" x="1477.90" y="948.30" font-size="51.6">灵活</text>
<text class="cj" x="1478.00" y="1011.00" font-size="51.6">时间</text>
<text class="cj" x="1656.40" y="948.30" font-size="51.6">固定</text>
<text class="cj" x="1655.05" y="1011.00" font-size="51.6">时间</text>
<g transform="translate(1317.2 447.2) rotate(-90)">
<text class="cj" x="-151.93" y="1.00" font-size="51.9">等待时间</text>
<text transform="translate(55.67 0.00) scale(1 1.0)" font-size="52.5" text-anchor="start" >/min</text>
</g>
</g>
<g>
<rect x="2087" y="883.27" width="128.00" height="0.9" fill="#a0a0a0"/>
<rect x="2263" y="883.27" width="128.00" height="0.9" fill="#a0a0a0"/>
<rect x="2062.5" y="11.5" width="355.10" height="874.00" fill="none" stroke="#1f1b1c" stroke-width="3.05"/>
<line x1="2062.5" y1="35.40" x2="2076.70" y2="35.40" stroke="#1f1b1c" stroke-width="3.05"/>
<text transform="translate(2043.35 50.20) scale(1 1.045)" font-size="51.2" text-anchor="end" word-spacing="0.5">3.90</text>
<line x1="2062.5" y1="158.23" x2="2076.70" y2="158.23" stroke="#1f1b1c" stroke-width="3.05"/>
<text transform="translate(2043.35 173.03) scale(1 1.045)" font-size="51.2" text-anchor="end" word-spacing="0.5">3.85</text>
<line x1="2062.5" y1="281.07" x2="2076.70" y2="281.07" stroke="#1f1b1c" stroke-width="3.05"/>
<text transform="translate(2043.35 295.87) scale(1 1.045)" font-size="51.2" text-anchor="end" word-spacing="0.5">3.80</text>
<line x1="2062.5" y1="403.90" x2="2076.70" y2="403.90" stroke="#1f1b1c" stroke-width="3.05"/>
<text transform="translate(2043.35 418.70) scale(1 1.045)" font-size="51.2" text-anchor="end" word-spacing="0.5">3.75</text>
<line x1="2062.5" y1="526.73" x2="2076.70" y2="526.73" stroke="#1f1b1c" stroke-width="3.05"/>
<text transform="translate(2043.35 541.53) scale(1 1.045)" font-size="51.2" text-anchor="end" word-spacing="0.5">3.70</text>
<line x1="2062.5" y1="649.57" x2="2076.70" y2="649.57" stroke="#1f1b1c" stroke-width="3.05"/>
<text transform="translate(2043.35 664.37) scale(1 1.045)" font-size="51.2" text-anchor="end" word-spacing="0.5">3.65</text>
<line x1="2062.5" y1="772.40" x2="2076.70" y2="772.40" stroke="#1f1b1c" stroke-width="3.05"/>
<text transform="translate(2043.35 787.20) scale(1 1.045)" font-size="51.2" text-anchor="end" word-spacing="0.5">3.60</text>
<text transform="translate(2149.40 850.20) scale(1 1.045)" font-size="51.2" text-anchor="middle" word-spacing="0.5">3.55</text>
<text transform="translate(2326.50 850.20) scale(1 1.045)" font-size="51.2" text-anchor="middle" word-spacing="0.5">3.55</text>
<text class="cj" x="2096.90" y="948.30" font-size="51.6">灵活</text>
<text class="cj" x="2097.80" y="1011.00" font-size="51.6">时间</text>
<text class="cj" x="2275.30" y="948.30" font-size="51.6">固定</text>
<text class="cj" x="2274.00" y="1011.00" font-size="51.6">时间</text>
<g transform="translate(1920.7 448.2) rotate(-90)">
<text class="cj" x="-136.14" y="1.00" font-size="51.6">能耗</text>
<text transform="translate(-32.94 0.00) scale(1 1.0)" font-size="52.5" text-anchor="start" >/(kW·h)</text>
</g>
</g>
<g>
<clipPath id="c40"><rect x="2760.7" y="846.8" width="127.50" height="38.70"/></clipPath>
<rect x="2760.7" y="846.8" width="127.50" height="38.70" fill="#a2b8d7"/>
<clipPath id="c40h"><rect x="2761.7" y="849.8" width="125.50" height="35.70"/></clipPath>
<g clip-path="url(#c40h)" stroke="#111" stroke-width="3.3">
<line x1="2669.60" y1="890.50" x2="2718.30" y2="841.80"/>
<line x1="2710.30" y1="890.50" x2="2759.00" y2="841.80"/>
<line x1="2751.00" y1="890.50" x2="2799.70" y2="841.80"/>
<line x1="2791.70" y1="890.50" x2="2840.40" y2="841.80"/>
<line x1="2832.40" y1="890.50" x2="2881.10" y2="841.80"/>
<line x1="2873.10" y1="890.50" x2="2921.80" y2="841.80"/>
<line x1="2913.80" y1="890.50" x2="2962.50" y2="841.80"/>
<line x1="2954.50" y1="890.50" x2="3003.20" y2="841.80"/>
</g>
<rect x="2760.7" y="846.8" width="127.50" height="2.3" fill="#b4b4b6"/>
<rect x="2760.7" y="849.0999999999999" width="127.50" height="2.0" fill="#111"/>
<rect x="2760.7" y="849.0999999999999" width="3.6" height="36.40" fill="#111"/>
<rect x="2884.80" y="849.0999999999999" width="3.4" height="36.40" fill="#111"/>
<clipPath id="c41"><rect x="2937.9" y="119.2" width="128.00" height="766.30"/></clipPath>
<rect x="2937.9" y="119.2" width="128.00" height="766.30" fill="#b8b6b7"/>
<g clip-path="url(#c41)" fill="#111">
<circle cx="2954.80" cy="129.20" r="3.2"/>
<circle cx="2975.02" cy="129.20" r="3.2"/>
<circle cx="2995.24" cy="129.20" r="3.2"/>
<circle cx="3015.46" cy="129.20" r="3.2"/>
<circle cx="3035.68" cy="129.20" r="3.2"/>
<circle cx="3055.90" cy="129.20" r="3.2"/>
<circle cx="2944.70" cy="149.45" r="3.2"/>
<circle cx="2964.92" cy="149.45" r="3.2"/>
<circle cx="2985.14" cy="149.45" r="3.2"/>
<circle cx="3005.36" cy="149.45" r="3.2"/>
<circle cx="3025.58" cy="149.45" r="3.2"/>
<circle cx="3045.80" cy="149.45" r="3.2"/>
<circle cx="3066.02" cy="149.45" r="3.2"/>
<circle cx="2954.80" cy="169.70" r="3.2"/>
<circle cx="2975.02" cy="169.70" r="3.2"/>
<circle cx="2995.24" cy="169.70" r="3.2"/>
<circle cx="3015.46" cy="169.70" r="3.2"/>
<circle cx="3035.68" cy="169.70" r="3.2"/>
<circle cx="3055.90" cy="169.70" r="3.2"/>
<circle cx="2944.70" cy="189.95" r="3.2"/>
<circle cx="2964.92" cy="189.95" r="3.2"/>
<circle cx="2985.14" cy="189.95" r="3.2"/>
<circle cx="3005.36" cy="189.95" r="3.2"/>
<circle cx="3025.58" cy="189.95" r="3.2"/>
<circle cx="3045.80" cy="189.95" r="3.2"/>
<circle cx="3066.02" cy="189.95" r="3.2"/>
<circle cx="2954.80" cy="210.20" r="3.2"/>
<circle cx="2975.02" cy="210.20" r="3.2"/>
<circle cx="2995.24" cy="210.20" r="3.2"/>
<circle cx="3015.46" cy="210.20" r="3.2"/>
<circle cx="3035.68" cy="210.20" r="3.2"/>
<circle cx="3055.90" cy="210.20" r="3.2"/>
<circle cx="2944.70" cy="230.45" r="3.2"/>
<circle cx="2964.92" cy="230.45" r="3.2"/>
<circle cx="2985.14" cy="230.45" r="3.2"/>
<circle cx="3005.36" cy="230.45" r="3.2"/>
<circle cx="3025.58" cy="230.45" r="3.2"/>
<circle cx="3045.80" cy="230.45" r="3.2"/>
<circle cx="3066.02" cy="230.45" r="3.2"/>
<circle cx="2954.80" cy="250.70" r="3.2"/>
<circle cx="2975.02" cy="250.70" r="3.2"/>
<circle cx="2995.24" cy="250.70" r="3.2"/>
<circle cx="3015.46" cy="250.70" r="3.2"/>
<circle cx="3035.68" cy="250.70" r="3.2"/>
<circle cx="3055.90" cy="250.70" r="3.2"/>
<circle cx="2944.70" cy="270.95" r="3.2"/>
<circle cx="2964.92" cy="270.95" r="3.2"/>
<circle cx="2985.14" cy="270.95" r="3.2"/>
<circle cx="3005.36" cy="270.95" r="3.2"/>
<circle cx="3025.58" cy="270.95" r="3.2"/>
<circle cx="3045.80" cy="270.95" r="3.2"/>
<circle cx="3066.02" cy="270.95" r="3.2"/>
<circle cx="2954.80" cy="291.20" r="3.2"/>
<circle cx="2975.02" cy="291.20" r="3.2"/>
<circle cx="2995.24" cy="291.20" r="3.2"/>
<circle cx="3015.46" cy="291.20" r="3.2"/>
<circle cx="3035.68" cy="291.20" r="3.2"/>
<circle cx="3055.90" cy="291.20" r="3.2"/>
<circle cx="2944.70" cy="311.45" r="3.2"/>
<circle cx="2964.92" cy="311.45" r="3.2"/>
<circle cx="2985.14" cy="311.45" r="3.2"/>
<circle cx="3005.36" cy="311.45" r="3.2"/>
<circle cx="3025.58" cy="311.45" r="3.2"/>
<circle cx="3045.80" cy="311.45" r="3.2"/>
<circle cx="3066.02" cy="311.45" r="3.2"/>
<circle cx="2954.80" cy="331.70" r="3.2"/>
<circle cx="2975.02" cy="331.70" r="3.2"/>
<circle cx="2995.24" cy="331.70" r="3.2"/>
<circle cx="3015.46" cy="331.70" r="3.2"/>
<circle cx="3035.68" cy="331.70" r="3.2"/>
<circle cx="3055.90" cy="331.70" r="3.2"/>
<circle cx="2944.70" cy="351.95" r="3.2"/>
<circle cx="2964.92" cy="351.95" r="3.2"/>
<circle cx="2985.14" cy="351.95" r="3.2"/>
<circle cx="3005.36" cy="351.95" r="3.2"/>
<circle cx="3025.58" cy="351.95" r="3.2"/>
<circle cx="3045.80" cy="351.95" r="3.2"/>
<circle cx="3066.02" cy="351.95" r="3.2"/>
<circle cx="2954.80" cy="372.20" r="3.2"/>
<circle cx="2975.02" cy="372.20" r="3.2"/>
<circle cx="2995.24" cy="372.20" r="3.2"/>
<circle cx="3015.46" cy="372.20" r="3.2"/>
<circle cx="3035.68" cy="372.20" r="3.2"/>
<circle cx="3055.90" cy="372.20" r="3.2"/>
<circle cx="2944.70" cy="392.45" r="3.2"/>
<circle cx="2964.92" cy="392.45" r="3.2"/>
<circle cx="2985.14" cy="392.45" r="3.2"/>
<circle cx="3005.36" cy="392.45" r="3.2"/>
<circle cx="3025.58" cy="392.45" r="3.2"/>
<circle cx="3045.80" cy="392.45" r="3.2"/>
<circle cx="3066.02" cy="392.45" r="3.2"/>
<circle cx="2954.80" cy="412.70" r="3.2"/>
<circle cx="2975.02" cy="412.70" r="3.2"/>
<circle cx="2995.24" cy="412.70" r="3.2"/>
<circle cx="3015.46" cy="412.70" r="3.2"/>
<circle cx="3035.68" cy="412.70" r="3.2"/>
<circle cx="3055.90" cy="412.70" r="3.2"/>
<circle cx="2944.70" cy="432.95" r="3.2"/>
<circle cx="2964.92" cy="432.95" r="3.2"/>
<circle cx="2985.14" cy="432.95" r="3.2"/>
<circle cx="3005.36" cy="432.95" r="3.2"/>
<circle cx="3025.58" cy="432.95" r="3.2"/>
<circle cx="3045.80" cy="432.95" r="3.2"/>
<circle cx="3066.02" cy="432.95" r="3.2"/>
<circle cx="2954.80" cy="453.20" r="3.2"/>
<circle cx="2975.02" cy="453.20" r="3.2"/>
<circle cx="2995.24" cy="453.20" r="3.2"/>
<circle cx="3015.46" cy="453.20" r="3.2"/>
<circle cx="3035.68" cy="453.20" r="3.2"/>
<circle cx="3055.90" cy="453.20" r="3.2"/>
<circle cx="2944.70" cy="473.45" r="3.2"/>
<circle cx="2964.92" cy="473.45" r="3.2"/>
<circle cx="2985.14" cy="473.45" r="3.2"/>
<circle cx="3005.36" cy="473.45" r="3.2"/>
<circle cx="3025.58" cy="473.45" r="3.2"/>
<circle cx="3045.80" cy="473.45" r="3.2"/>
<circle cx="3066.02" cy="473.45" r="3.2"/>
<circle cx="2954.80" cy="493.70" r="3.2"/>
<circle cx="2975.02" cy="493.70" r="3.2"/>
<circle cx="2995.24" cy="493.70" r="3.2"/>
<circle cx="3015.46" cy="493.70" r="3.2"/>
<circle cx="3035.68" cy="493.70" r="3.2"/>
<circle cx="3055.90" cy="493.70" r="3.2"/>
<circle cx="2944.70" cy="513.95" r="3.2"/>
<circle cx="2964.92" cy="513.95" r="3.2"/>
<circle cx="2985.14" cy="513.95" r="3.2"/>
<circle cx="3005.36" cy="513.95" r="3.2"/>
<circle cx="3025.58" cy="513.95" r="3.2"/>
<circle cx="3045.80" cy="513.95" r="3.2"/>
<circle cx="3066.02" cy="513.95" r="3.2"/>
<circle cx="2954.80" cy="534.20" r="3.2"/>
<circle cx="2975.02" cy="534.20" r="3.2"/>
<circle cx="2995.24" cy="534.20" r="3.2"/>
<circle cx="3015.46" cy="534.20" r="3.2"/>
<circle cx="3035.68" cy="534.20" r="3.2"/>
<circle cx="3055.90" cy="534.20" r="3.2"/>
<circle cx="2944.70" cy="554.45" r="3.2"/>
<circle cx="2964.92" cy="554.45" r="3.2"/>
<circle cx="2985.14" cy="554.45" r="3.2"/>
<circle cx="3005.36" cy="554.45" r="3.2"/>
<circle cx="3025.58" cy="554.45" r="3.2"/>
<circle cx="3045.80" cy="554.45" r="3.2"/>
<circle cx="3066.02" cy="554.45" r="3.2"/>
<circle cx="2954.80" cy="574.70" r="3.2"/>
<circle cx="2975.02" cy="574.70" r="3.2"/>
<circle cx="2995.24" cy="574.70" r="3.2"/>
<circle cx="3015.46" cy="574.70" r="3.2"/>
<circle cx="3035.68" cy="574.70" r="3.2"/>
<circle cx="3055.90" cy="574.70" r="3.2"/>
<circle cx="2944.70" cy="594.95" r="3.2"/>
<circle cx="2964.92" cy="594.95" r="3.2"/>
<circle cx="2985.14" cy="594.95" r="3.2"/>
<circle cx="3005.36" cy="594.95" r="3.2"/>
<circle cx="3025.58" cy="594.95" r="3.2"/>
<circle cx="3045.80" cy="594.95" r="3.2"/>
<circle cx="3066.02" cy="594.95" r="3.2"/>
<circle cx="2954.80" cy="615.20" r="3.2"/>
<circle cx="2975.02" cy="615.20" r="3.2"/>
<circle cx="2995.24" cy="615.20" r="3.2"/>
<circle cx="3015.46" cy="615.20" r="3.2"/>
<circle cx="3035.68" cy="615.20" r="3.2"/>
<circle cx="3055.90" cy="615.20" r="3.2"/>
<circle cx="2944.70" cy="635.45" r="3.2"/>
<circle cx="2964.92" cy="635.45" r="3.2"/>
<circle cx="2985.14" cy="635.45" r="3.2"/>
<circle cx="3005.36" cy="635.45" r="3.2"/>
<circle cx="3025.58" cy="635.45" r="3.2"/>
<circle cx="3045.80" cy="635.45" r="3.2"/>
<circle cx="3066.02" cy="635.45" r="3.2"/>
<circle cx="2954.80" cy="655.70" r="3.2"/>
<circle cx="2975.02" cy="655.70" r="3.2"/>
<circle cx="2995.24" cy="655.70" r="3.2"/>
<circle cx="3015.46" cy="655.70" r="3.2"/>
<circle cx="3035.68" cy="655.70" r="3.2"/>
<circle cx="3055.90" cy="655.70" r="3.2"/>
<circle cx="2944.70" cy="675.95" r="3.2"/>
<circle cx="2964.92" cy="675.95" r="3.2"/>
<circle cx="2985.14" cy="675.95" r="3.2"/>
<circle cx="3005.36" cy="675.95" r="3.2"/>
<circle cx="3025.58" cy="675.95" r="3.2"/>
<circle cx="3045.80" cy="675.95" r="3.2"/>
<circle cx="3066.02" cy="675.95" r="3.2"/>
<circle cx="2954.80" cy="696.20" r="3.2"/>
<circle cx="2975.02" cy="696.20" r="3.2"/>
<circle cx="2995.24" cy="696.20" r="3.2"/>
<circle cx="3015.46" cy="696.20" r="3.2"/>
<circle cx="3035.68" cy="696.20" r="3.2"/>
<circle cx="3055.90" cy="696.20" r="3.2"/>
<circle cx="2944.70" cy="716.45" r="3.2"/>
<circle cx="2964.92" cy="716.45" r="3.2"/>
<circle cx="2985.14" cy="716.45" r="3.2"/>
<circle cx="3005.36" cy="716.45" r="3.2"/>
<circle cx="3025.58" cy="716.45" r="3.2"/>
<circle cx="3045.80" cy="716.45" r="3.2"/>
<circle cx="3066.02" cy="716.45" r="3.2"/>
<circle cx="2954.80" cy="736.70" r="3.2"/>
<circle cx="2975.02" cy="736.70" r="3.2"/>
<circle cx="2995.24" cy="736.70" r="3.2"/>
<circle cx="3015.46" cy="736.70" r="3.2"/>
<circle cx="3035.68" cy="736.70" r="3.2"/>
<circle cx="3055.90" cy="736.70" r="3.2"/>
<circle cx="2944.70" cy="756.95" r="3.2"/>
<circle cx="2964.92" cy="756.95" r="3.2"/>
<circle cx="2985.14" cy="756.95" r="3.2"/>
<circle cx="3005.36" cy="756.95" r="3.2"/>
<circle cx="3025.58" cy="756.95" r="3.2"/>
<circle cx="3045.80" cy="756.95" r="3.2"/>
<circle cx="3066.02" cy="756.95" r="3.2"/>
<circle cx="2954.80" cy="777.20" r="3.2"/>
<circle cx="2975.02" cy="777.20" r="3.2"/>
<circle cx="2995.24" cy="777.20" r="3.2"/>
<circle cx="3015.46" cy="777.20" r="3.2"/>
<circle cx="3035.68" cy="777.20" r="3.2"/>
<circle cx="3055.90" cy="777.20" r="3.2"/>
<circle cx="2944.70" cy="797.45" r="3.2"/>
<circle cx="2964.92" cy="797.45" r="3.2"/>
<circle cx="2985.14" cy="797.45" r="3.2"/>
<circle cx="3005.36" cy="797.45" r="3.2"/>
<circle cx="3025.58" cy="797.45" r="3.2"/>
<circle cx="3045.80" cy="797.45" r="3.2"/>
<circle cx="3066.02" cy="797.45" r="3.2"/>
<circle cx="2954.80" cy="817.70" r="3.2"/>
<circle cx="2975.02" cy="817.70" r="3.2"/>
<circle cx="2995.24" cy="817.70" r="3.2"/>
<circle cx="3015.46" cy="817.70" r="3.2"/>
<circle cx="3035.68" cy="817.70" r="3.2"/>
<circle cx="3055.90" cy="817.70" r="3.2"/>
<circle cx="2944.70" cy="837.95" r="3.2"/>
<circle cx="2964.92" cy="837.95" r="3.2"/>
<circle cx="2985.14" cy="837.95" r="3.2"/>
<circle cx="3005.36" cy="837.95" r="3.2"/>
<circle cx="3025.58" cy="837.95" r="3.2"/>
<circle cx="3045.80" cy="837.95" r="3.2"/>
<circle cx="3066.02" cy="837.95" r="3.2"/>
<circle cx="2954.80" cy="858.20" r="3.2"/>
<circle cx="2975.02" cy="858.20" r="3.2"/>
<circle cx="2995.24" cy="858.20" r="3.2"/>
<circle cx="3015.46" cy="858.20" r="3.2"/>
<circle cx="3035.68" cy="858.20" r="3.2"/>
<circle cx="3055.90" cy="858.20" r="3.2"/>
<circle cx="2944.70" cy="878.45" r="3.2"/>
<circle cx="2964.92" cy="878.45" r="3.2"/>
<circle cx="2985.14" cy="878.45" r="3.2"/>
<circle cx="3005.36" cy="878.45" r="3.2"/>
<circle cx="3025.58" cy="878.45" r="3.2"/>
<circle cx="3045.80" cy="878.45" r="3.2"/>
<circle cx="3066.02" cy="878.45" r="3.2"/>
</g>
<rect x="2937.9" y="119.2" width="128.00" height="3.7" fill="#262527"/>
<rect x="2937.9" y="119.2" width="3.7" height="766.30" fill="#262527"/>
<rect x="3061.70" y="119.2" width="4.2" height="766.30" fill="#262527"/>
<rect x="2734.6" y="11.5" width="354.00" height="874.00" fill="none" stroke="#1f1b1c" stroke-width="3.05"/>
<line x1="2734.6" y1="106.40" x2="2748.80" y2="106.40" stroke="#1f1b1c" stroke-width="3.05"/>
<text transform="translate(2714.35 122.20) scale(1 1.045)" font-size="51.2" text-anchor="end" word-spacing="0.5">10 300</text>
<line x1="2734.6" y1="215.00" x2="2748.80" y2="215.00" stroke="#1f1b1c" stroke-width="3.05"/>
<text transform="translate(2714.35 230.77) scale(1 1.045)" font-size="51.2" text-anchor="end" word-spacing="0.5">10 280</text>
<line x1="2734.6" y1="323.60" x2="2748.80" y2="323.60" stroke="#1f1b1c" stroke-width="3.05"/>
<text transform="translate(2714.35 339.34) scale(1 1.045)" font-size="51.2" text-anchor="end" word-spacing="0.5">10 260</text>
<line x1="2734.6" y1="432.20" x2="2748.80" y2="432.20" stroke="#1f1b1c" stroke-width="3.05"/>
<text transform="translate(2714.35 447.91) scale(1 1.045)" font-size="51.2" text-anchor="end" word-spacing="0.5">10 240</text>
<line x1="2734.6" y1="540.80" x2="2748.80" y2="540.80" stroke="#1f1b1c" stroke-width="3.05"/>
<text transform="translate(2714.35 556.49) scale(1 1.045)" font-size="51.2" text-anchor="end" word-spacing="0.5">10 220</text>
<line x1="2734.6" y1="649.40" x2="2748.80" y2="649.40" stroke="#1f1b1c" stroke-width="3.05"/>
<text transform="translate(2714.35 665.06) scale(1 1.045)" font-size="51.2" text-anchor="end" word-spacing="0.5">10 200</text>
<line x1="2734.6" y1="758.00" x2="2748.80" y2="758.00" stroke="#1f1b1c" stroke-width="3.05"/>
<text transform="translate(2714.35 773.63) scale(1 1.045)" font-size="51.2" text-anchor="end" word-spacing="0.5">10 180</text>
<line x1="2734.6" y1="866.60" x2="2748.80" y2="866.60" stroke="#1f1b1c" stroke-width="3.05"/>
<text transform="translate(2714.35 882.20) scale(1 1.045)" font-size="51.2" text-anchor="end" word-spacing="0.5">10 160</text>
<text transform="translate(2823.10 834.90) scale(1 1.045)" font-size="51.2" text-anchor="middle" word-spacing="0.5">10 163</text>
<text transform="translate(3000.80 96.10) scale(1 1.045)" font-size="51.2" text-anchor="middle" word-spacing="0.5">10 297</text>
<text class="cj" x="2771.55" y="948.30" font-size="51.6">灵活</text>
<text class="cj" x="2771.90" y="1011.00" font-size="51.6">时间</text>
<text class="cj" x="2949.50" y="948.30" font-size="51.6">固定</text>
<text class="cj" x="2948.30" y="1011.00" font-size="51.6">时间</text>
<g transform="translate(2541.0 447.9) rotate(-90)">
<text class="cj" x="-163.14" y="1.00" font-size="51.95">总运营成本</text>
<text transform="translate(96.61 0.00) scale(1 1.0)" font-size="52.5" text-anchor="start" >/</text>
<text class="cj" x="111.19" y="1.00" font-size="51.95">元</text>
</g>
</g>
</svg></body></html>
